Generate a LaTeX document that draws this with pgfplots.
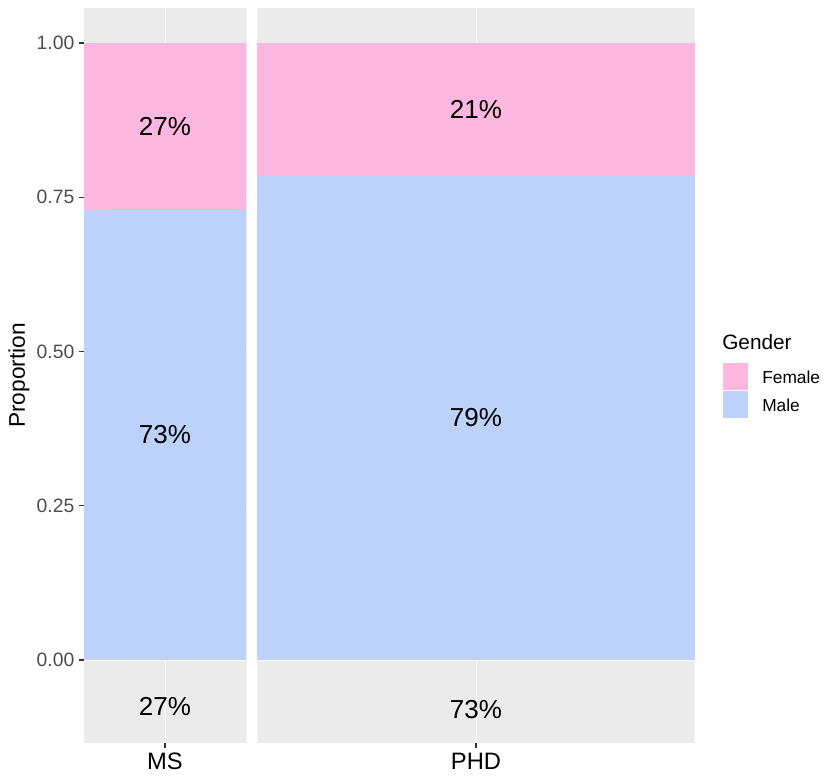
\documentclass[border=0pt]{standalone}
\usepackage{fontspec}
\setmainfont{Liberation Sans}
\usepackage{pgfplots}
\pgfplotsset{compat=1.18}
\definecolor{female}{RGB}{251,183,222}
\definecolor{male}{RGB}{188,210,251}
\definecolor{panel}{RGB}{235,235,235}
\definecolor{gray30}{RGB}{77,77,77}
\definecolor{gray20}{RGB}{51,51,51}

\begin{document}
\begin{tikzpicture}
\begin{axis}[
  at={(0,0)}, anchor=south west,
  scale only axis, width=458.25pt, height=551.25pt,
  xmin=0, xmax=1.0183, ymin=-0.1345, ymax=1.0567,
  axis line style={draw=none},
  axis background/.style={fill=panel},
  clip=false,
  xtick={0.135,0.6533}, xticklabels={MS,PHD},
  ytick={0,0.25,0.5,0.75,1},
  /pgf/number format/.cd, fixed, fixed zerofill, precision=2, assume math mode=true, /pgfplots/.cd,
  yticklabel style={font=\fontsize{14.5}{17}\selectfont, text=gray30},
  xticklabel style={font=\fontsize{17.8}{21}\selectfont, text=black},
  xtick pos=bottom, ytick pos=left,
  tick align=outside, major tick length=3.75pt,
  tick style={gray20, line width=0.8pt},
  grid=major, major grid style={white!70!panel, line width=0.7pt},
  ylabel={Proportion},
  ylabel style={font=\fontsize{17}{20}\selectfont, at={(rel axis cs:-0.1065,0.5)}, anchor=center},
]
% gap between the two columns
\fill[white] (axis cs:0.2717,-0.1345) rectangle (axis cs:0.2883,1.0567);

% MS
\addplot[draw=none, fill=female] coordinates {(0,0) (0,1) (0.27,1) (0.27,0)};
\addplot[draw=none, fill=male] coordinates {(0,0) (0,0.73) (0.27,0.73) (0.27,0)};
% PHD
\addplot[draw=none, fill=female] coordinates {(0.2883,0) (0.2883,1) (1.0183,1) (1.0183,0)};
\addplot[draw=none, fill=male] coordinates {(0.2883,0) (0.2883,0.785) (1.0183,0.785) (1.0183,0)};

\node[font=\fontsize{19.5}{23}\selectfont] at (axis cs:0.135,0.865) {27\%};
\node[font=\fontsize{19.5}{23}\selectfont] at (axis cs:0.135,0.365) {73\%};
\node[font=\fontsize{19.5}{23}\selectfont] at (axis cs:0.6533,0.8925) {21\%};
\node[font=\fontsize{19.5}{23}\selectfont] at (axis cs:0.6533,0.3925) {79\%};
\node[font=\fontsize{19.5}{23}\selectfont] at (axis cs:0.135,-0.0746) {27\%};
\node[font=\fontsize{19.5}{23}\selectfont] at (axis cs:0.6533,-0.081) {73\%};

% legend
\node[anchor=west, font=\fontsize{15.6}{18}\selectfont, inner sep=0pt] at (rel axis cs:1.0442,0.5456) {Gender};
\fill[female] (rel axis cs:1.0458,0.4803) rectangle (rel axis cs:1.0867,0.5170);
\fill[male] (rel axis cs:1.0458,0.4422) rectangle (rel axis cs:1.0867,0.4789);
\node[anchor=west, font=\fontsize{13}{15}\selectfont, inner sep=0pt] at (rel axis cs:1.1097,0.4980) {Female};
\node[anchor=west, font=\fontsize{13}{15}\selectfont, inner sep=0pt] at (rel axis cs:1.1097,0.4599) {Male};
\end{axis}
\pgfresetboundingbox
\useasboundingbox (-63pt,-26.25pt) rectangle (555.75pt,557.25pt);
\end{tikzpicture}
\end{document}
